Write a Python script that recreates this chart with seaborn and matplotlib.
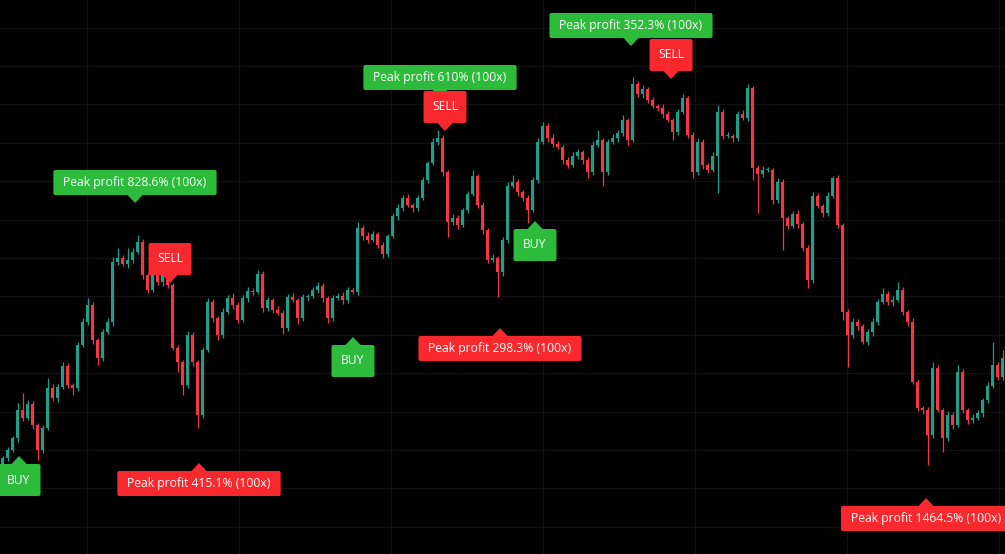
import pandas as pd
import matplotlib
matplotlib.use("Agg")
import matplotlib.pyplot as plt
import seaborn as sns
from matplotlib.patches import FancyBboxPatch, Polygon
from matplotlib.transforms import IdentityTransform
from matplotlib.ticker import MultipleLocator

# Candle data (one candle per bar, open = previous close)
first_open = 136
closes = [
    142, 150, 162, 190, 182, 196, 175, 150, 172, 212,
    202, 213, 234, 215, 212, 255, 278, 295, 260, 242,
    268, 278, 338, 342, 336, 340, 348, 358, 325, 310,
    328, 318, 325, 315, 252, 238, 215, 265, 238, 185,
    250, 298, 282, 265, 288, 302, 295, 280, 302, 309,
    308, 326, 292, 300, 290, 287, 272, 303, 300, 282,
    303, 304, 310, 314, 302, 282, 302, 304, 300, 310,
    308, 372, 364, 360, 366, 355, 346, 364, 384, 392,
    402, 395, 392, 402, 420, 437, 458, 462, 428, 378,
    382, 375, 390, 406, 424, 395, 370, 340, 342, 328,
    360, 414, 418, 408, 402, 390, 420, 458, 474, 462,
    456, 453, 440, 435, 444, 448, 440, 428, 455, 460,
    428, 458, 462, 467, 480, 460, 516, 506, 511, 500,
    494, 492, 486, 480, 468, 488, 502, 465, 428, 458,
    435, 430, 444, 488, 464, 464, 462, 486, 482, 512,
    432, 426, 430, 430, 400, 418, 382, 374, 386, 376,
    352, 320, 404, 394, 387, 404, 422, 375, 288, 265,
    278, 274, 258, 268, 278, 298, 306, 298, 300, 310,
    288, 278, 218, 192, 190, 165, 232, 190, 162, 185,
    175, 228, 190, 180, 182, 187, 200, 214, 235, 223,
    242,
]
# wick length above / below the candle body
up_wick = [
    2, 3, 2, 7, 17, 4, 3, 2, 3, 10,
    4, 3, 4, 3, 2, 3, 4, 7, 3, 2,
    3, 4, 5, 10, 3, 12, 4, 7, 3, 2,
    4, 3, 12, 3, 2, 3, 2, 4, 3, 2,
    3, 4, 3, 2, 4, 3, 5, 3, 3, 4,
    3, 4, 3, 3, 2, 4, 3, 3, 4, 2,
    3, 2, 3, 4, 3, 2, 3, 3, 4, 3,
    2, 6, 3, 4, 3, 2, 3, 2, 3, 4,
    3, 4, 2, 3, 3, 2, 4, 8, 3, 2,
    4, 3, 2, 3, 6, 2, 3, 2, 4, 2,
    3, 4, 7, 3, 2, 3, 3, 4, 4, 3,
    4, 3, 2, 3, 4, 3, 2, 3, 4, 10,
    2, 3, 4, 3, 5, 2, 7, 3, 4, 2,
    3, 2, 4, 3, 2, 3, 4, 2, 3, 4,
    3, 2, 4, 7, 3, 4, 2, 3, 4, 4,
    2, 3, 4, 3, 2, 4, 3, 2, 3, 4,
    2, 3, 4, 3, 2, 4, 2, 3, 2, 3,
    4, 3, 2, 3, 4, 3, 6, 3, 4, 8,
    3, 2, 4, 3, 2, 3, 6, 3, 2, 4,
    3, 7, 3, 2, 4, 3, 2, 4, 23, 3,
    8,
]
down_wick = [
    1, 3, 2, 4, 3, 2, 4, 10, 3, 2,
    3, 4, 2, 3, 7, 3, 2, 3, 4, 7,
    3, 2, 4, 3, 2, 4, 3, 2, 4, 3,
    2, 3, 4, 3, 2, 10, 10, 3, 4, 13,
    3, 2, 4, 5, 3, 2, 4, 3, 2, 4,
    3, 2, 4, 3, 3, 2, 6, 3, 2, 6,
    3, 4, 2, 3, 4, 5, 3, 2, 4, 3,
    2, 3, 4, 3, 2, 3, 4, 3, 2, 4,
    3, 2, 4, 3, 2, 3, 2, 3, 4, 15,
    3, 4, 2, 3, 2, 3, 4, 3, 2, 25,
    4, 3, 2, 4, 3, 13, 2, 3, 2, 4,
    3, 2, 4, 3, 2, 3, 4, 6, 3, 2,
    14, 3, 2, 4, 3, 5, 2, 3, 4, 3,
    2, 3, 4, 2, 8, 3, 2, 3, 6, 3,
    4, 3, 2, 37, 3, 2, 4, 3, 2, 3,
    12, 39, 3, 2, 4, 3, 32, 3, 2, 4,
    3, 8, 3, 2, 4, 3, 2, 3, 8, 32,
    3, 4, 2, 3, 4, 3, 2, 3, 4, 2,
    3, 4, 2, 3, 4, 30, 3, 2, 14, 3,
    4, 2, 3, 4, 3, 2, 4, 3, 2, 3,
    3,
]

# signal labels: candle index, price the pointer touches, text, kind, box side
label_idx = [26.5, 33.5, 3.3, 39.3, 70.1, 87.5, 88.5, 99.5, 106.5, 125.7, 133.7, 184.7]
label_price = [397, 317, 144, 137, 263, 502, 469, 272, 379, 554, 521, 102]
label_text = [
    "Peak profit 828.6% (100x)", "SELL", "BUY", "Peak profit 415.1% (100x)",
    "BUY", "Peak profit 610% (100x)", "SELL", "Peak profit 298.3% (100x)",
    "BUY", "Peak profit 352.3% (100x)", "SELL", "Peak profit 1464.5% (100x)",
]
label_kind = ["up", "down", "up", "down", "up", "up", "down", "down", "up", "up", "down", "down"]
label_side = ["above", "above", "below", "below", "below", "above", "above", "below",
              "below", "above", "above", "below"]

UP = "#1f9e89"
DOWN = "#f23645"
GREEN_LABEL = "#2cbb3a"
RED_LABEL = "#f7292e"

df = pd.DataFrame({"close": closes, "up_wick": up_wick, "down_wick": down_wick})
df["open"] = df["close"].shift(1).fillna(first_open)
df["high"] = df[["open", "close"]].max(axis=1) + df["up_wick"]
df["low"] = df[["open", "close"]].min(axis=1) - df["down_wick"]
df["color"] = [UP if c >= o else DOWN for o, c in zip(df["open"], df["close"])]

sns.set_theme(style="darkgrid", rc={
    "axes.facecolor": "black",
    "figure.facecolor": "black",
    "grid.color": "#111111",
    "grid.linewidth": 1.0,
})

fig = plt.figure(figsize=(10.05, 5.54), dpi=100)
ax = fig.add_axes([0, 0, 1, 1])

ax.vlines(df.index, df["low"], df["high"], colors=df["color"], linewidth=0.9)
body = (df["close"] - df["open"]).where((df["close"] - df["open"]).abs() > 0.8, 0.8)
ax.bar(df.index, body, bottom=df["open"], width=0.42, color=df["color"], linewidth=0)

ax.set_xlim(-0.5, 200.5)
ax.set_ylim(46, 600)
ax.xaxis.set_major_locator(MultipleLocator(30.4, offset=16.9))
ax.yaxis.set_major_locator(MultipleLocator(38.4, offset=34.8))
ax.tick_params(length=0, labelbottom=False, labelleft=False)
for s in ax.spines.values():
    s.set_visible(False)

# labels with pointer, drawn in pixel space
renderer = fig.canvas.get_renderer()
for idx, price, text, kind, side in zip(label_idx, label_price, label_text, label_kind, label_side):
    color = GREEN_LABEL if kind == "up" else RED_LABEL
    px, py = ax.transData.transform((idx, price))
    t = ax.text(0, 0, text, transform=IdentityTransform(), color="white", fontsize=8.7,
                family="Open Sans", ha="center", va="center", zorder=6)
    tw = t.get_window_extent(renderer).width
    if text in ("BUY", "SELL"):
        bw, bh = 43, 32
    else:
        bw, bh = tw + 20, 25
    if side == "above":
        tri = [(px, py), (px - 8, py + 8.5), (px + 8, py + 8.5)]
        y0 = py + 8
    else:
        tri = [(px, py), (px - 8, py - 8.5), (px + 8, py - 8.5)]
        y0 = py - 8 - bh
    ax.add_patch(Polygon(tri, closed=True, fc=color, ec="none", transform=IdentityTransform(),
                         clip_on=False, zorder=5))
    ax.add_patch(FancyBboxPatch((px - bw / 2, y0), bw, bh, boxstyle="round,pad=0,rounding_size=2",
                                fc=color, ec="none", transform=IdentityTransform(),
                                clip_on=False, zorder=5))
    t.set_position((px, y0 + bh / 2))

fig.savefig("out.png", dpi=100, facecolor="black")
